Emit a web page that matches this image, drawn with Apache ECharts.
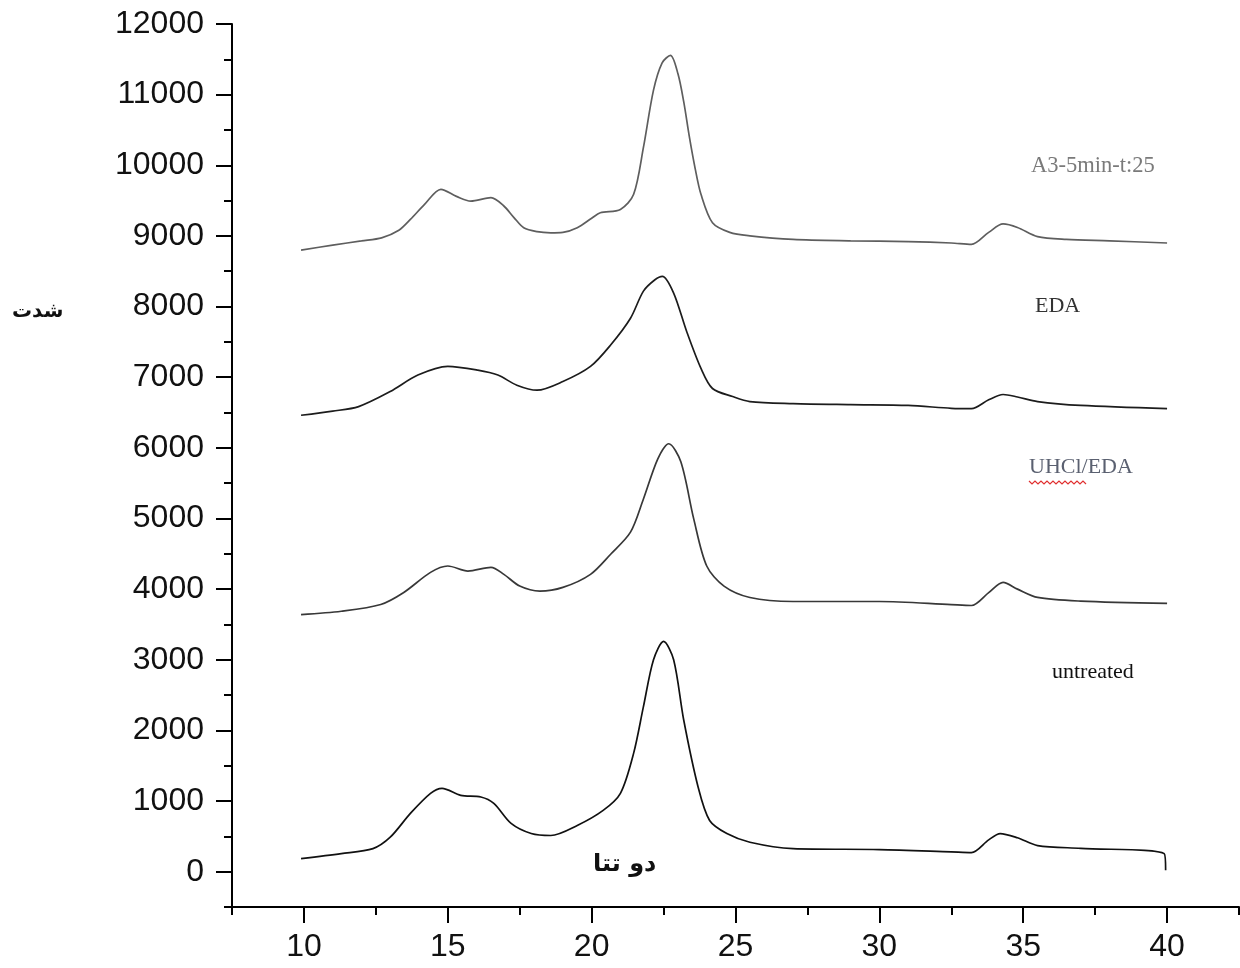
<!DOCTYPE html>
<html>
<head>
<meta charset="utf-8">
<script src="https://cdn.jsdelivr.net/npm/echarts@6/dist/echarts.min.js"></script>
<style>
html,body{margin:0;padding:0;background:#fff;}
#chart{width:1240px;height:968px;}
</style>
</head>
<body>
<div id="chart"></div>
<script>
// ---- data (2θ in degrees, intensity) ----
var xTicks = [10, 15, 20, 25, 30, 35, 40];
var xMinorTicks = [7.5, 12.5, 17.5, 22.5, 27.5, 32.5, 37.5, 42.5];
var yTicks = [0, 1000, 2000, 3000, 4000, 5000, 6000, 7000, 8000, 9000, 10000, 11000, 12000];
var yMinorTicks = [-500, 500, 1500, 2500, 3500, 4500, 5500, 6500, 7500, 8500, 9500, 10500, 11500];

var a3X = [9.9, 11, 12, 12.7, 13.3, 13.7, 14.2, 14.76, 15.3, 15.8, 16.5, 16.94, 17.3, 17.64, 18.1, 18.58, 19.0, 19.5, 20.0, 20.3, 21.0, 21.46, 21.8, 22.15, 22.45, 22.74, 23.0, 23.2, 23.4, 23.6, 23.8, 24.2, 24.8, 25.5, 27, 29, 31, 32.5, 33.2, 33.8, 34.3, 34.8, 35.5, 36.5, 38, 40];
var a3Y = [8800, 8870, 8930, 8973, 9080, 9233, 9450, 9660, 9560, 9493, 9541, 9427, 9260, 9115, 9060, 9044, 9050, 9115, 9250, 9328, 9375, 9589, 10253, 11063, 11450, 11556, 11295, 10900, 10395, 9950, 9589, 9186, 9050, 9001, 8950, 8930, 8920, 8900, 8880, 9050, 9170, 9120, 8990, 8950, 8930, 8900];

var edaX = [9.9, 11, 11.9, 13.0, 13.96, 15.0, 16.04, 16.74, 17.4, 18.1, 19.0, 19.96, 20.66, 21.35, 21.8, 22.2, 22.46, 22.85, 23.3, 23.8, 24.2, 24.9, 25.5, 27, 29, 31, 32.5, 33.2, 33.8, 34.3, 34.8, 35.5, 37, 40];
var edaY = [6461, 6520, 6584, 6797, 7030, 7153, 7100, 7030, 6887, 6816, 6939, 7153, 7456, 7835, 8219, 8380, 8428, 8191, 7650, 7124, 6840, 6726, 6655, 6627, 6612, 6600, 6560, 6555, 6680, 6755, 6720, 6655, 6600, 6555];

var uhclX = [9.9, 11.3, 12.67, 13.47, 14.4, 15.0, 15.7, 16.5, 16.95, 17.5, 18.2, 19.0, 19.96, 20.66, 21.35, 21.8, 22.3, 22.68, 23.1, 23.55, 24.0, 24.6, 25.5, 27, 30, 32.5, 33.2, 33.8, 34.3, 34.8, 35.5, 37, 40];
var uhclY = [3640, 3687, 3783, 3953, 4237, 4327, 4256, 4308, 4209, 4043, 3972, 4024, 4209, 4494, 4806, 5276, 5844, 6058, 5802, 4991, 4327, 4043, 3882, 3825, 3825, 3780, 3768, 3950, 4095, 4000, 3882, 3830, 3797];

var untreatedX = [9.9, 11.3, 12.4, 13.0, 13.7, 14.4, 14.8, 15.45, 16.15, 16.6, 17.2, 17.9, 18.58, 19.5, 20.4, 21.0, 21.46, 21.8, 22.15, 22.5, 22.85, 23.2, 23.7, 24.1, 24.7, 25.5, 27, 30, 32.5, 33.2, 33.8, 34.2, 34.8, 35.5, 37, 39.9, 39.95];
var untreatedY = [185, 256, 327, 488, 825, 1109, 1180, 1081, 1057, 967, 683, 540, 512, 654, 867, 1109, 1678, 2336, 3000, 3261, 3000, 2147, 1199, 725, 540, 417, 327, 313, 280, 270, 450, 540, 480, 370, 330, 256, 20];

var seriesNames = ['A3-5min-t:25', 'EDA', 'UHCl/EDA', 'untreated'];
var xTitle = 'دو تتا';
var yTitle = 'شدت';

function pairs(xs, ys) { return xs.map(function (x, i) { return [x, ys[i]]; }); }

var chart = echarts.init(document.getElementById('chart'), null, { renderer: 'canvas' });
var axisFont = { fontFamily: 'Liberation Sans, Arial, sans-serif', fontSize: 32, color: '#111', formatter: function (v) { return String(v); } };
var serif = 'Liberation Serif, Times New Roman, serif';

var option = {
  backgroundColor: '#fff',
  animation: false,
  grid: { left: 232, right: 1, top: 24, bottom: 61, containLabel: false },
  xAxis: [
    {
      type: 'value', min: 7.5, max: 42.5, position: 'bottom',
      axisLine: { show: true, onZero: false, lineStyle: { color: '#000', width: 2 } },
      axisTick: { show: true, customValues: xTicks, length: 16, lineStyle: { color: '#000', width: 2 } },
      axisLabel: Object.assign({ show: true, customValues: xTicks, margin: 24 }, axisFont),
      splitLine: { show: false }
    },
    {
      type: 'value', min: 7.5, max: 42.5, position: 'bottom', offset: 0,
      axisLine: { show: false, onZero: false },
      axisTick: { show: true, customValues: xMinorTicks, length: 8, lineStyle: { color: '#000', width: 2 } },
      axisLabel: { show: false },
      splitLine: { show: false }
    }
  ],
  yAxis: [
    {
      type: 'value', min: -500, max: 12000, position: 'left',
      axisLine: { show: true, onZero: false, lineStyle: { color: '#000', width: 2 } },
      axisTick: { show: true, customValues: yTicks, length: 16, lineStyle: { color: '#000', width: 2 } },
      axisLabel: Object.assign({ show: true, customValues: yTicks, margin: 28 }, axisFont),
      splitLine: { show: false }
    },
    {
      type: 'value', min: -500, max: 12000, position: 'left', offset: 0,
      axisLine: { show: false, onZero: false },
      axisTick: { show: true, customValues: yMinorTicks, length: 8, lineStyle: { color: '#000', width: 2 } },
      axisLabel: { show: false },
      splitLine: { show: false }
    }
  ],
  series: [
    { name: seriesNames[0], type: 'line', data: pairs(a3X, a3Y), color: '#5e5e5e' },
    { name: seriesNames[1], type: 'line', data: pairs(edaX, edaY), color: '#1c1c1c' },
    { name: seriesNames[2], type: 'line', data: pairs(uhclX, uhclY), color: '#383838' },
    { name: seriesNames[3], type: 'line', data: pairs(untreatedX, untreatedY), color: '#111' }
  ].map(function (s) {
    return Object.assign(s, {
      xAxisIndex: 0, yAxisIndex: 0, showSymbol: false, smooth: 0.3,
      lineStyle: { width: 1.7, color: s.color }
    });
  }),
  graphic: [
    { type: 'text', left: 1031, top: 155, style: { text: seriesNames[0], font: '22.5px ' + serif, fill: '#7a7a7a' } },
    { type: 'text', left: 1035, top: 295, style: { text: seriesNames[1], font: '22px ' + serif, fill: '#333' } },
    { type: 'text', left: 1029, top: 456, style: { text: seriesNames[2], font: '22px ' + serif, fill: '#5a6070' } },
    { type: 'polyline', shape: { points: [[1029,481],[1032,484],[1035,481],[1038,484],[1041,481],[1044,484],[1047,481],[1050,484],[1053,481],[1056,484],[1059,481],[1062,484],[1065,481],[1068,484],[1071,481],[1074,484],[1077,481],[1080,484],[1083,481],[1086,484]] }, style: { stroke: '#e03030', lineWidth: 1.2, fill: null } },
    { type: 'text', left: 1052, top: 661, style: { text: seriesNames[3], font: '22px ' + serif, fill: '#111' } },
    { type: 'text', left: 593, top: 853, style: { text: xTitle, font: 'bold 24px DejaVu Sans, sans-serif', fill: '#111' } },
    { type: 'text', left: 12, top: 302, style: { text: yTitle, font: 'bold 20px DejaVu Sans, sans-serif', fill: '#111' } }
  ]
};
chart.setOption(option);
</script>
</body>
</html>
